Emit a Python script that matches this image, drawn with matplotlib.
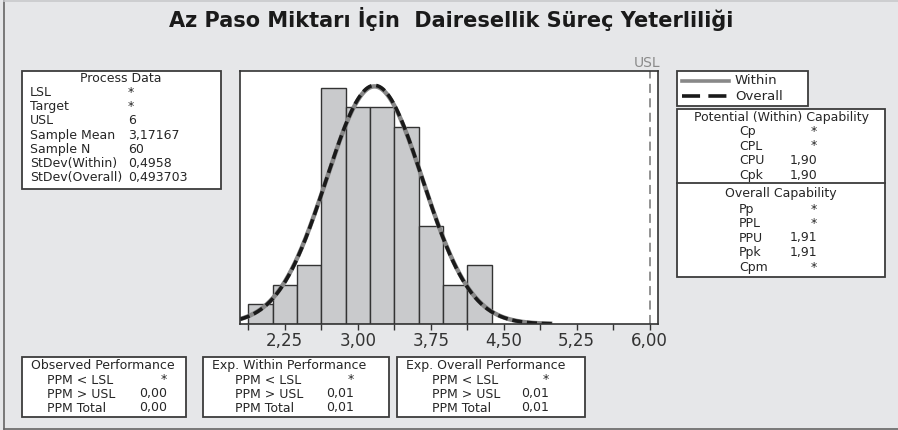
import numpy as np
import matplotlib.pyplot as plt
from matplotlib.patches import Rectangle
from matplotlib.lines import Line2D

W, H = 898, 430

# histogram (bin width 0,25)
bin_edges = [1.875, 2.125, 2.375, 2.625, 2.875, 3.125, 3.375, 3.625, 3.875, 4.125, 4.375]
counts = [1, 2, 3, 12, 11, 11, 10, 5, 2, 3]

usl = 6.0
sample_mean = 3.17167
sample_n = 60
sd_within = 0.4958
sd_overall = 0.493703
curve_lo, curve_hi = 1.79, 5.0

tick_major = [2.25, 3.00, 3.75, 4.50, 5.25, 6.00]
tick_labels = ['2,25', '3,00', '3,75', '4,50', '5,25', '6,00']
tick_minor = [1.875, 2.625, 3.375, 4.125, 4.875, 5.625]

title = 'Az Paso Miktarı İçin  Dairesellik Süreç Yeterliliği'

process_rows = [('LSL', '*'), ('Target', '*'), ('USL', '6'), ('Sample Mean', '3,17167'),
                ('Sample N', '60'), ('StDev(Within)', '0,4958'), ('StDev(Overall)', '0,493703')]
within_rows = [('Cp', '*'), ('CPL', '*'), ('CPU', '1,90'), ('Cpk', '1,90')]
overall_rows = [('Pp', '*'), ('PPL', '*'), ('PPU', '1,91'), ('Ppk', '1,91'), ('Cpm', '*')]
observed_perf = [('PPM < LSL', '*'), ('PPM > USL', '0,00'), ('PPM Total', '0,00')]
exp_within_perf = [('PPM < LSL', '*'), ('PPM > USL', '0,01'), ('PPM Total', '0,01')]
exp_overall_perf = [('PPM < LSL', '*'), ('PPM > USL', '0,01'), ('PPM Total', '0,01')]

bg = '#e6e7e9'
edge = '#3c3c3c'
txt = '#262626'
fs = 9

fig = plt.figure(figsize=(W / 100, H / 100), dpi=100, facecolor=bg)

# overlay in pixel coordinates for the text panels
ov = fig.add_axes([0, 0, 1, 1], zorder=0)
ov.set_xlim(0, W)
ov.set_ylim(H, 0)
ov.axis('off')

# outer frame
ov.add_line(Line2D([4, 4], [0.5, 429], color='#666666', lw=1.2))
ov.add_line(Line2D([4, W], [429, 429], color='#666666', lw=1.2))
ov.add_line(Line2D([4, W], [0.8, 0.8], color='#c8c9cc', lw=1.2))

ov.text(451, 19, title, ha='center', va='center', fontsize=15, fontweight='bold', color='#1a1a1a')


def box(x0, y0, x1, y1):
    ov.add_patch(Rectangle((x0, y0), x1 - x0, y1 - y0, fc='white', ec=edge, lw=1.3))


# Process Data
box(22, 71, 221, 189)
ov.text(121, 78.5, 'Process Data', ha='center', va='center', fontsize=fs, color=txt)
for i, (lab, val) in enumerate(process_rows):
    y = 92.5 + i * 14.2
    ov.text(30, y, lab, ha='left', va='center', fontsize=fs, color=txt)
    ov.text(128, y, val, ha='left', va='center', fontsize=fs, color=txt)

# legend
box(677, 71, 808, 106)
ov.add_line(Line2D([682, 729], [81, 81], color='#888888', lw=2.6))
ov.add_line(Line2D([682, 729], [96, 96], color='#1a1a1a', lw=2.6, dashes=(5, 2.3)))
ov.text(735, 81, 'Within', ha='left', va='center', fontsize=9.5, color=txt)
ov.text(735, 96, 'Overall', ha='left', va='center', fontsize=9.5, color=txt)

# capability panel
box(677, 109, 885, 277)
ov.add_line(Line2D([677, 885], [182.5, 182.5], color=edge, lw=1.3))
ov.text(781, 117, 'Potential (Within) Capability', ha='center', va='center', fontsize=fs, color=txt)
for i, (lab, val) in enumerate(within_rows):
    y = 131.5 + i * 14.5
    ov.text(739, y, lab, ha='left', va='center', fontsize=fs, color=txt)
    ov.text(817, y, val, ha='right', va='center', fontsize=fs, color=txt)
ov.text(781, 193.5, 'Overall Capability', ha='center', va='center', fontsize=fs, color=txt)
for i, (lab, val) in enumerate(overall_rows):
    y = 209 + i * 14.5
    ov.text(739, y, lab, ha='left', va='center', fontsize=fs, color=txt)
    ov.text(817, y, val, ha='right', va='center', fontsize=fs, color=txt)

# performance panels
panels = [
    (22, 186, 'Observed Performance', observed_perf, 47, 167),
    (203, 389, 'Exp. Within Performance', exp_within_perf, 235, 354),
    (397, 585, 'Exp. Overall Performance', exp_overall_perf, 432, 549),
]
for x0, x1, name, rows, xl, xr in panels:
    box(x0, 357, x1, 417)
    ov.text(x0 + 9, 365.5, name, ha='left', va='center', fontsize=fs, color=txt)
    for i, (lab, val) in enumerate(rows):
        y = 380 + i * 14
        ov.text(xl, y, lab, ha='left', va='center', fontsize=fs, color=txt)
        ov.text(xr, y, val, ha='right', va='center', fontsize=fs, color=txt)

# main histogram
ax = fig.add_axes([240 / W, (H - 324) / H, 418 / W, 253 / H], zorder=1)
ax.set_facecolor('white')
widths = np.diff(bin_edges)
ax.bar(bin_edges[:-1], counts, width=widths, align='edge', color='#c9cacc',
       edgecolor='#333333', linewidth=1.0)

xs = np.linspace(curve_lo, curve_hi, 400)
scale = sample_n * widths[0]
pdf_w = scale * np.exp(-0.5 * ((xs - sample_mean) / sd_within) ** 2) / (sd_within * np.sqrt(2 * np.pi))
pdf_o = scale * np.exp(-0.5 * ((xs - sample_mean) / sd_overall) ** 2) / (sd_overall * np.sqrt(2 * np.pi))
ax.plot(xs, pdf_w, color='#888888', lw=3.2, solid_capstyle='butt')
ax.plot(xs, pdf_o, color='#1a1a1a', lw=2.6, dashes=(2.8, 1.3))

ax.axvline(usl, color='#8a8a8a', lw=1.3, dashes=(5, 3))
ov.text(647, 63, 'USL', ha='center', va='center', fontsize=10, color='#8a8a8a')

ax.set_xlim(1.79, 6.085)
ax.set_ylim(0, 12.85)
ax.set_yticks([])
ax.set_xticks(tick_major)
ax.set_xticklabels(tick_labels)
ax.set_xticks(tick_minor, minor=True)
ax.tick_params(axis='x', which='both', direction='out', length=4, width=1, color='#333333',
               labelsize=12, labelcolor='#333333', pad=2)
for s in ax.spines.values():
    s.set_color('#333333')
    s.set_linewidth(1.2)

fig.savefig('out.png', dpi=100, facecolor=bg)
